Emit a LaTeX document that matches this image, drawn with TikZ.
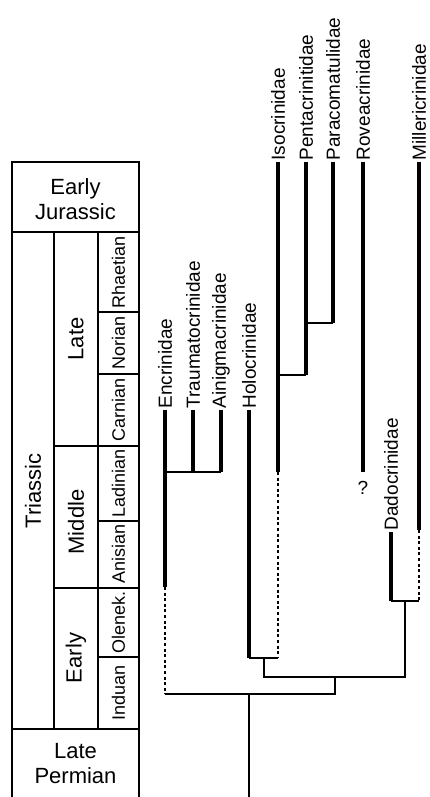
\documentclass[tikz,border=0pt]{standalone}
\usepackage{fontspec}
\setmainfont{Liberation Sans}
\usetikzlibrary{positioning}
\tikzset{
  scaleline/.style={line width=1.3pt},
  period/.style={inner sep=0pt,font=\fontsize{22}{25}\selectfont},
  stage/.style={rotate=90,inner sep=0pt,font=\fontsize{18}{20}\selectfont},
  taxon/.style={rotate=90,anchor=west,inner sep=1.5pt,font=\fontsize{19}{21}\selectfont},
  stratrange/.style={line width=3.2pt},
  ghostline/.style={line width=1.8pt,dash pattern=on 3pt off 2.6pt},
  branch/.style={line width=1.3pt}
}

\begin{document}
\begin{tikzpicture}[x=1pt,y=-1pt]
\useasboundingbox (0,0) rectangle (429,797);

% time scale
\draw[scaleline] (12,805) -- (12,162) -- (139,162) -- (139,805);
\draw[scaleline] (12,232) -- (139,232);
\draw[scaleline] (12,729) -- (139,729);
\draw[scaleline] (54,232) -- (54,729);
\draw[scaleline] (98,232) -- (98,729);
\draw[scaleline] (54,446) -- (98,446) (54,588) -- (98,588);
\foreach \y in {312,374,446,521,588,657}
  \draw[scaleline] (98,\y) -- (139,\y);

\node[period,align=center] (jur) at (75.5,199) {Early\\Jurassic};
\node[period,align=center] (perm) at (75.5,764) {Late\\Permian};
\node[period,rotate=90] (tri) at (33,491) {Triassic};
\node[period,rotate=90] (late) at (76,339) {Late};
\node[period,rotate=90] (mid) at (76,522) {Middle};
\node[period,rotate=90] (early) at (76,658) {Early};
\foreach \n/\s/\y in {rha/Rhaetian/272,nor/Norian/343,car/Carnian/410,
    lad/Ladinian/483,ani/Anisian/554,ole/Olenek./622,ind/Induan/693}
  \node[stage] (\n) at (118.5,\y) {\s};

% families
\node[taxon] (enc) at (165,410) {Encrinidae};
\node[taxon] (tra) at (193,410) {Traumatocrinidae};
\node[taxon] (ain) at (221,410) {Ainigmacrinidae};
\node[taxon] (hol) at (249,410) {Holocrinidae};
\node[taxon] (iso) at (278,162) {Isocrinidae};
\node[taxon] (pen) at (306,162) {Pentacrinitidae};
\node[taxon] (par) at (333,162) {Paracomatulidae};
\node[taxon] (rov) at (363,162) {Roveacrinidae};
\node[taxon] (dad) at (391,532) {Dadocrinidae};
\node[taxon] (mil) at (419,162) {Millericrinidae};
\node[inner sep=0pt,font=\fontsize{19}{21}\selectfont] (q) at (363,488) {?};

% branch points
\coordinate (encA) at (165,472);
\coordinate (encB) at (165,587);
\coordinate (encC) at (165,694);
\coordinate (isoA) at (278,375);
\coordinate (isoB) at (278,472);
\coordinate (isoC) at (278,658);
\coordinate (penA) at (306,323);
\coordinate (holA) at (249,658);
\coordinate (hiA) at (264,658);
\coordinate (hiB) at (264,677);
\coordinate (milA) at (419,530);
\coordinate (milB) at (419,601);
\coordinate (dmA) at (405,601);
\coordinate (dmB) at (405,677);
\coordinate (allA) at (335,677);
\coordinate (allB) at (335,694);
\coordinate (root) at (249,694);
\coordinate (base) at (249,805);

% ranges
\draw[stratrange] (enc.west) -- (encB);
\draw[ghostline] (encB) -- (encC);
\draw[stratrange] (tra.west) -- (tra |- encA);
\draw[stratrange] (ain.west) -- (ain |- encA);
\draw[stratrange] (hol.west) -- (holA);
\draw[stratrange] (iso.west) -- (isoB);
\draw[ghostline] (isoB) -- (isoC);
\draw[stratrange] (pen.west) -- (pen |- isoA);
\draw[stratrange] (par.west) -- (par |- penA);
\draw[stratrange] (rov.west) -- (rov |- isoB);
\draw[stratrange] (dad.west) -- (dad |- milB);
\draw[stratrange] (mil.west) -- (milA);
\draw[ghostline] (milA) -- (milB);

% tree
\draw[branch] (encA) -- (ain |- encA);
\draw[branch] (isoA) -- (pen |- isoA);
\draw[branch] (penA) -- (par |- penA);
\draw[branch] (holA) -- (isoC);
\draw[branch] (dad |- milB) -- (milB);
\draw[branch] (hiA) -- (hiB) -- (dmB) -- (dmA);
\draw[branch] (allA) -- (allB) -- (encC);
\draw[branch] (root) -- (base);
\end{tikzpicture}
\end{document}
